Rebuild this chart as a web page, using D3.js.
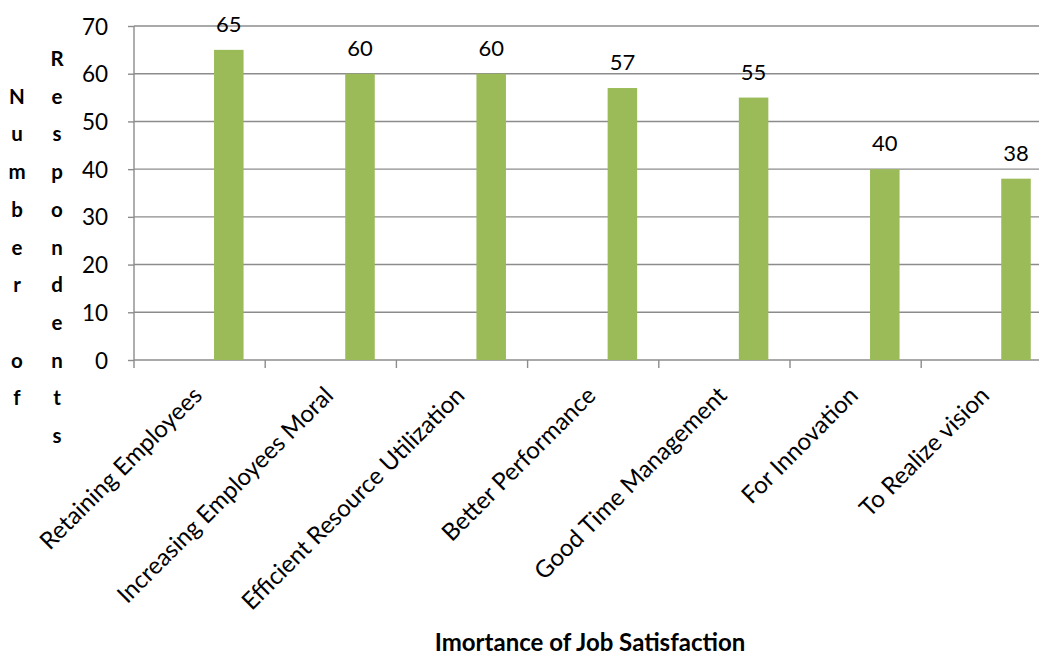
<!DOCTYPE html>
<html>
<head>
<meta charset="utf-8">
<script src="https://cdn.jsdelivr.net/npm/d3@7"></script>
<style>
  html, body { margin: 0; padding: 0; background: #fff; }
  svg { display: block; }
</style>
</head>
<body>
<svg id="chart" width="1039" height="657"></svg>
<script>
// Reasons why job satisfaction matters, by number of respondents
const categories = [
  "Retaining Employees",
  "Increasing Employees Moral",
  "Efficient Resource Utilization",
  "Better Performance",
  "Good Time Management",
  "For Innovation",
  "To Realize vision"
];
const respondents = [65, 60, 60, 57, 55, 40, 38];
const yTicks = [0, 10, 20, 30, 40, 50, 60, 70];
const yTitleCol1 = ["", "N", "u", "m", "b", "e", "r", "", "o", "f"];
const yTitleCol2 = ["R", "e", "s", "p", "o", "n", "d", "e", "n", "t", "s"];
const xTitle = "Imortance of Job Satisfaction";

const W = 1039, H = 657;
const plotLeft = 134, plotTop = 26, plotBottom = 360;
const band = 131.2;
const font = "Lato, 'Open Sans', sans-serif";
const gridColor = "#8c8c8c";
const barColor = "#9bbb59";

const svg = d3.select("#chart");

const x = d3.scaleBand()
  .domain(categories)
  .range([plotLeft, plotLeft + band * categories.length])
  .paddingInner(0).paddingOuter(0);

const y = d3.scaleLinear().domain([0, 70]).range([plotBottom, plotTop]);

// horizontal gridlines
svg.append("g").selectAll("line").data(yTicks).join("line")
  .attr("x1", plotLeft).attr("x2", W)
  .attr("y1", d => y(d)).attr("y2", d => y(d))
  .attr("stroke", gridColor).attr("stroke-width", 1.4);

// y axis
const yAxis = svg.append("g")
  .attr("transform", `translate(${plotLeft},0)`)
  .call(d3.axisLeft(y).tickValues(yTicks).tickSize(6).tickPadding(20).tickFormat(d3.format("d")));
yAxis.select(".domain").remove();
yAxis.selectAll(".tick line").attr("stroke", gridColor).attr("stroke-width", 1.4);
yAxis.selectAll(".tick text")
  .attr("font-family", font).attr("font-size", 22.5).attr("fill", "#000")
  .attr("dy", "0.36em");
svg.append("line")
  .attr("x1", plotLeft).attr("x2", plotLeft)
  .attr("y1", y(70)).attr("y2", plotBottom + 8)
  .attr("stroke", gridColor).attr("stroke-width", 1.4);

// category boundary ticks below the baseline
svg.append("g").selectAll("line").data(categories).join("line")
  .attr("x1", d => x(d) + band).attr("x2", d => x(d) + band)
  .attr("y1", plotBottom).attr("y2", plotBottom + 8)
  .attr("stroke", gridColor).attr("stroke-width", 1.4);

// bars
const barOffset = band * 0.61, barWidth = band * 0.225;
svg.append("g").selectAll("rect").data(respondents).join("rect")
  .attr("x", (d, i) => x(categories[i]) + barOffset)
  .attr("width", barWidth)
  .attr("y", d => y(d))
  .attr("height", d => plotBottom - y(d))
  .attr("fill", barColor);

// value labels
svg.append("g").selectAll("text").data(respondents).join("text")
  .attr("x", (d, i) => x(categories[i]) + barOffset + barWidth / 2)
  .attr("y", d => y(d) - 18)
  .attr("text-anchor", "middle")
  .attr("font-family", font).attr("font-size", 22).attr("fill", "#000")
  .text(d => d);

// rotated category labels
svg.append("g").selectAll("text").data(categories).join("text")
  .attr("transform", d => `translate(${x(d) + band / 2 + 4},${plotBottom + 37}) rotate(-45)`)
  .attr("text-anchor", "end")
  .attr("font-family", font).attr("font-size", 24).attr("fill", "#000")
  .text(d => d);

// stacked vertical y-axis title, two columns of letters
const lineStep = 37.7, firstBase = 66;
[[yTitleCol1, 17], [yTitleCol2, 57]].forEach(([letters, cx]) => {
  svg.append("g").selectAll("text").data(letters).join("text")
    .attr("x", cx)
    .attr("y", (d, i) => firstBase + i * lineStep)
    .attr("text-anchor", "middle")
    .attr("font-family", font).attr("font-weight", "bold").attr("font-size", 20.5)
    .attr("fill", "#000")
    .text(d => d);
});

// x-axis title
svg.append("text")
  .attr("x", 590).attr("y", 651)
  .attr("text-anchor", "middle")
  .attr("font-family", font).attr("font-weight", "bold").attr("font-size", 24)
  .attr("fill", "#000")
  .text(xTitle);
</script>
</body>
</html>
